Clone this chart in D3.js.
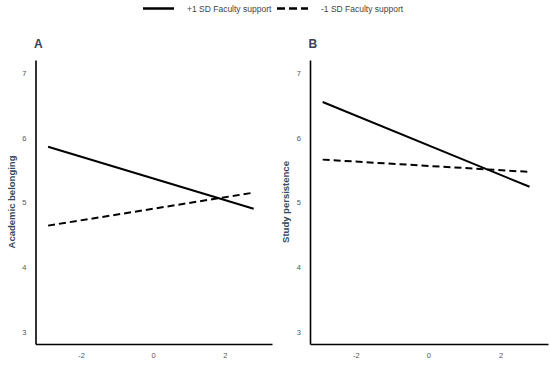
<!DOCTYPE html>
<html>
<head>
<meta charset="utf-8">
<script src="https://cdn.jsdelivr.net/npm/d3@7"></script>
<style>
  body { margin: 0; background: #fff; }
  text { font-family: "Liberation Sans", Arial, sans-serif; }
</style>
</head>
<body>
<div id="container"></div>
<script>
/* CONSTANTS AND GLOBALS */
const width = 550,
  height = 365;

// data
const moderatorX = [-2.92, 2.8];
const seriesNames = ["+1 SD Faculty support", "-1 SD Faculty support"];
const belongingHigh = [5.86, 4.9];
const belongingLow = [4.64, 5.15];
const persistHigh = [6.55, 5.24];
const persistLow = [5.66, 5.47];
const xTicks = [-2, 0, 2];
const yTicks = [3, 4, 5, 6, 7];

const panels = [
  { label: "A", title: "Academic belonging", high: belongingHigh, low: belongingLow, left: 35.5, right: 272 },
  { label: "B", title: "Study persistence", high: persistHigh, low: persistLow, left: 310, right: 548 }
];

const svg = d3.select("#container")
  .append("svg")
  .attr("width", width)
  .attr("height", height);

/* LEGEND */
const legend = svg.append("g").attr("class", "legend");
const legendItems = [
  { name: seriesNames[0], dash: null, x: 143 },
  { name: seriesNames[1], dash: "8,4", x: 277 }
];
legendItems.forEach(d => {
  legend.append("line")
    .attr("x1", d.x).attr("x2", d.x + 31)
    .attr("y1", 8.5).attr("y2", 8.5)
    .attr("stroke", "#000")
    .attr("stroke-width", 2.5)
    .attr("stroke-dasharray", d.dash);
  legend.append("text")
    .attr("x", d.x + 44).attr("y", 11.5)
    .attr("font-size", 8.5)
    .attr("fill", "#444")
    .text(d.name);
});

// plain hyphen for negatives, like the original
const fmt = d => String(d);

/* PANELS */
panels.forEach(p => {
  const xScale = d3.scaleLinear()
    .domain([-3.27, 3.31])
    .range([p.left, p.right]);

  const yScale = d3.scaleLinear()
    .domain([2.81, 7.2])
    .range([344, 60]);

  const g = svg.append("g");

  // axes (lines only, no ticks)
  const xAxis = d3.axisBottom(xScale).tickValues(xTicks).tickSize(0).tickPadding(9).tickFormat(fmt);
  const yAxis = d3.axisLeft(yScale).tickValues(yTicks).tickSize(0).tickPadding(9).tickFormat(fmt);

  const gx = g.append("g")
    .attr("transform", `translate(0,${yScale.range()[0]})`)
    .call(xAxis);
  const gy = g.append("g")
    .attr("transform", `translate(${p.left},0)`)
    .call(yAxis);

  [gx, gy].forEach(a => {
    a.select(".domain").attr("stroke", "#000").attr("stroke-width", 1.6);
    a.selectAll("text")
      .attr("fill", "#555")
      .attr("font-size", 7.5)
      .attr("font-family", "Liberation Sans, Arial, sans-serif");
  });

  // panel label
  g.append("text")
    .attr("x", p.left - 1.5)
    .attr("y", 48)
    .attr("font-size", 12)
    .attr("font-weight", "bold")
    .attr("fill", "#3a4252")
    .text(p.label);

  // y title
  g.append("text")
    .attr("transform", `translate(${p.left - 21},${(yScale.range()[0] + yScale.range()[1]) / 2}) rotate(-90)`)
    .attr("text-anchor", "middle")
    .attr("font-size", 9.5)
    .attr("font-weight", "bold")
    .attr("fill", "#3a4a60")
    .text(p.title);

  const line = d3.line()
    .x((d, i) => xScale(moderatorX[i]))
    .y(d => yScale(d));

  g.append("path")
    .datum(p.high)
    .attr("d", line)
    .attr("fill", "none")
    .attr("stroke", "#000")
    .attr("stroke-width", 2);

  g.append("path")
    .datum(p.low)
    .attr("d", line)
    .attr("fill", "none")
    .attr("stroke", "#000")
    .attr("stroke-width", 2)
    .attr("stroke-dasharray", "7,4");
});
</script>
</body>
</html>
